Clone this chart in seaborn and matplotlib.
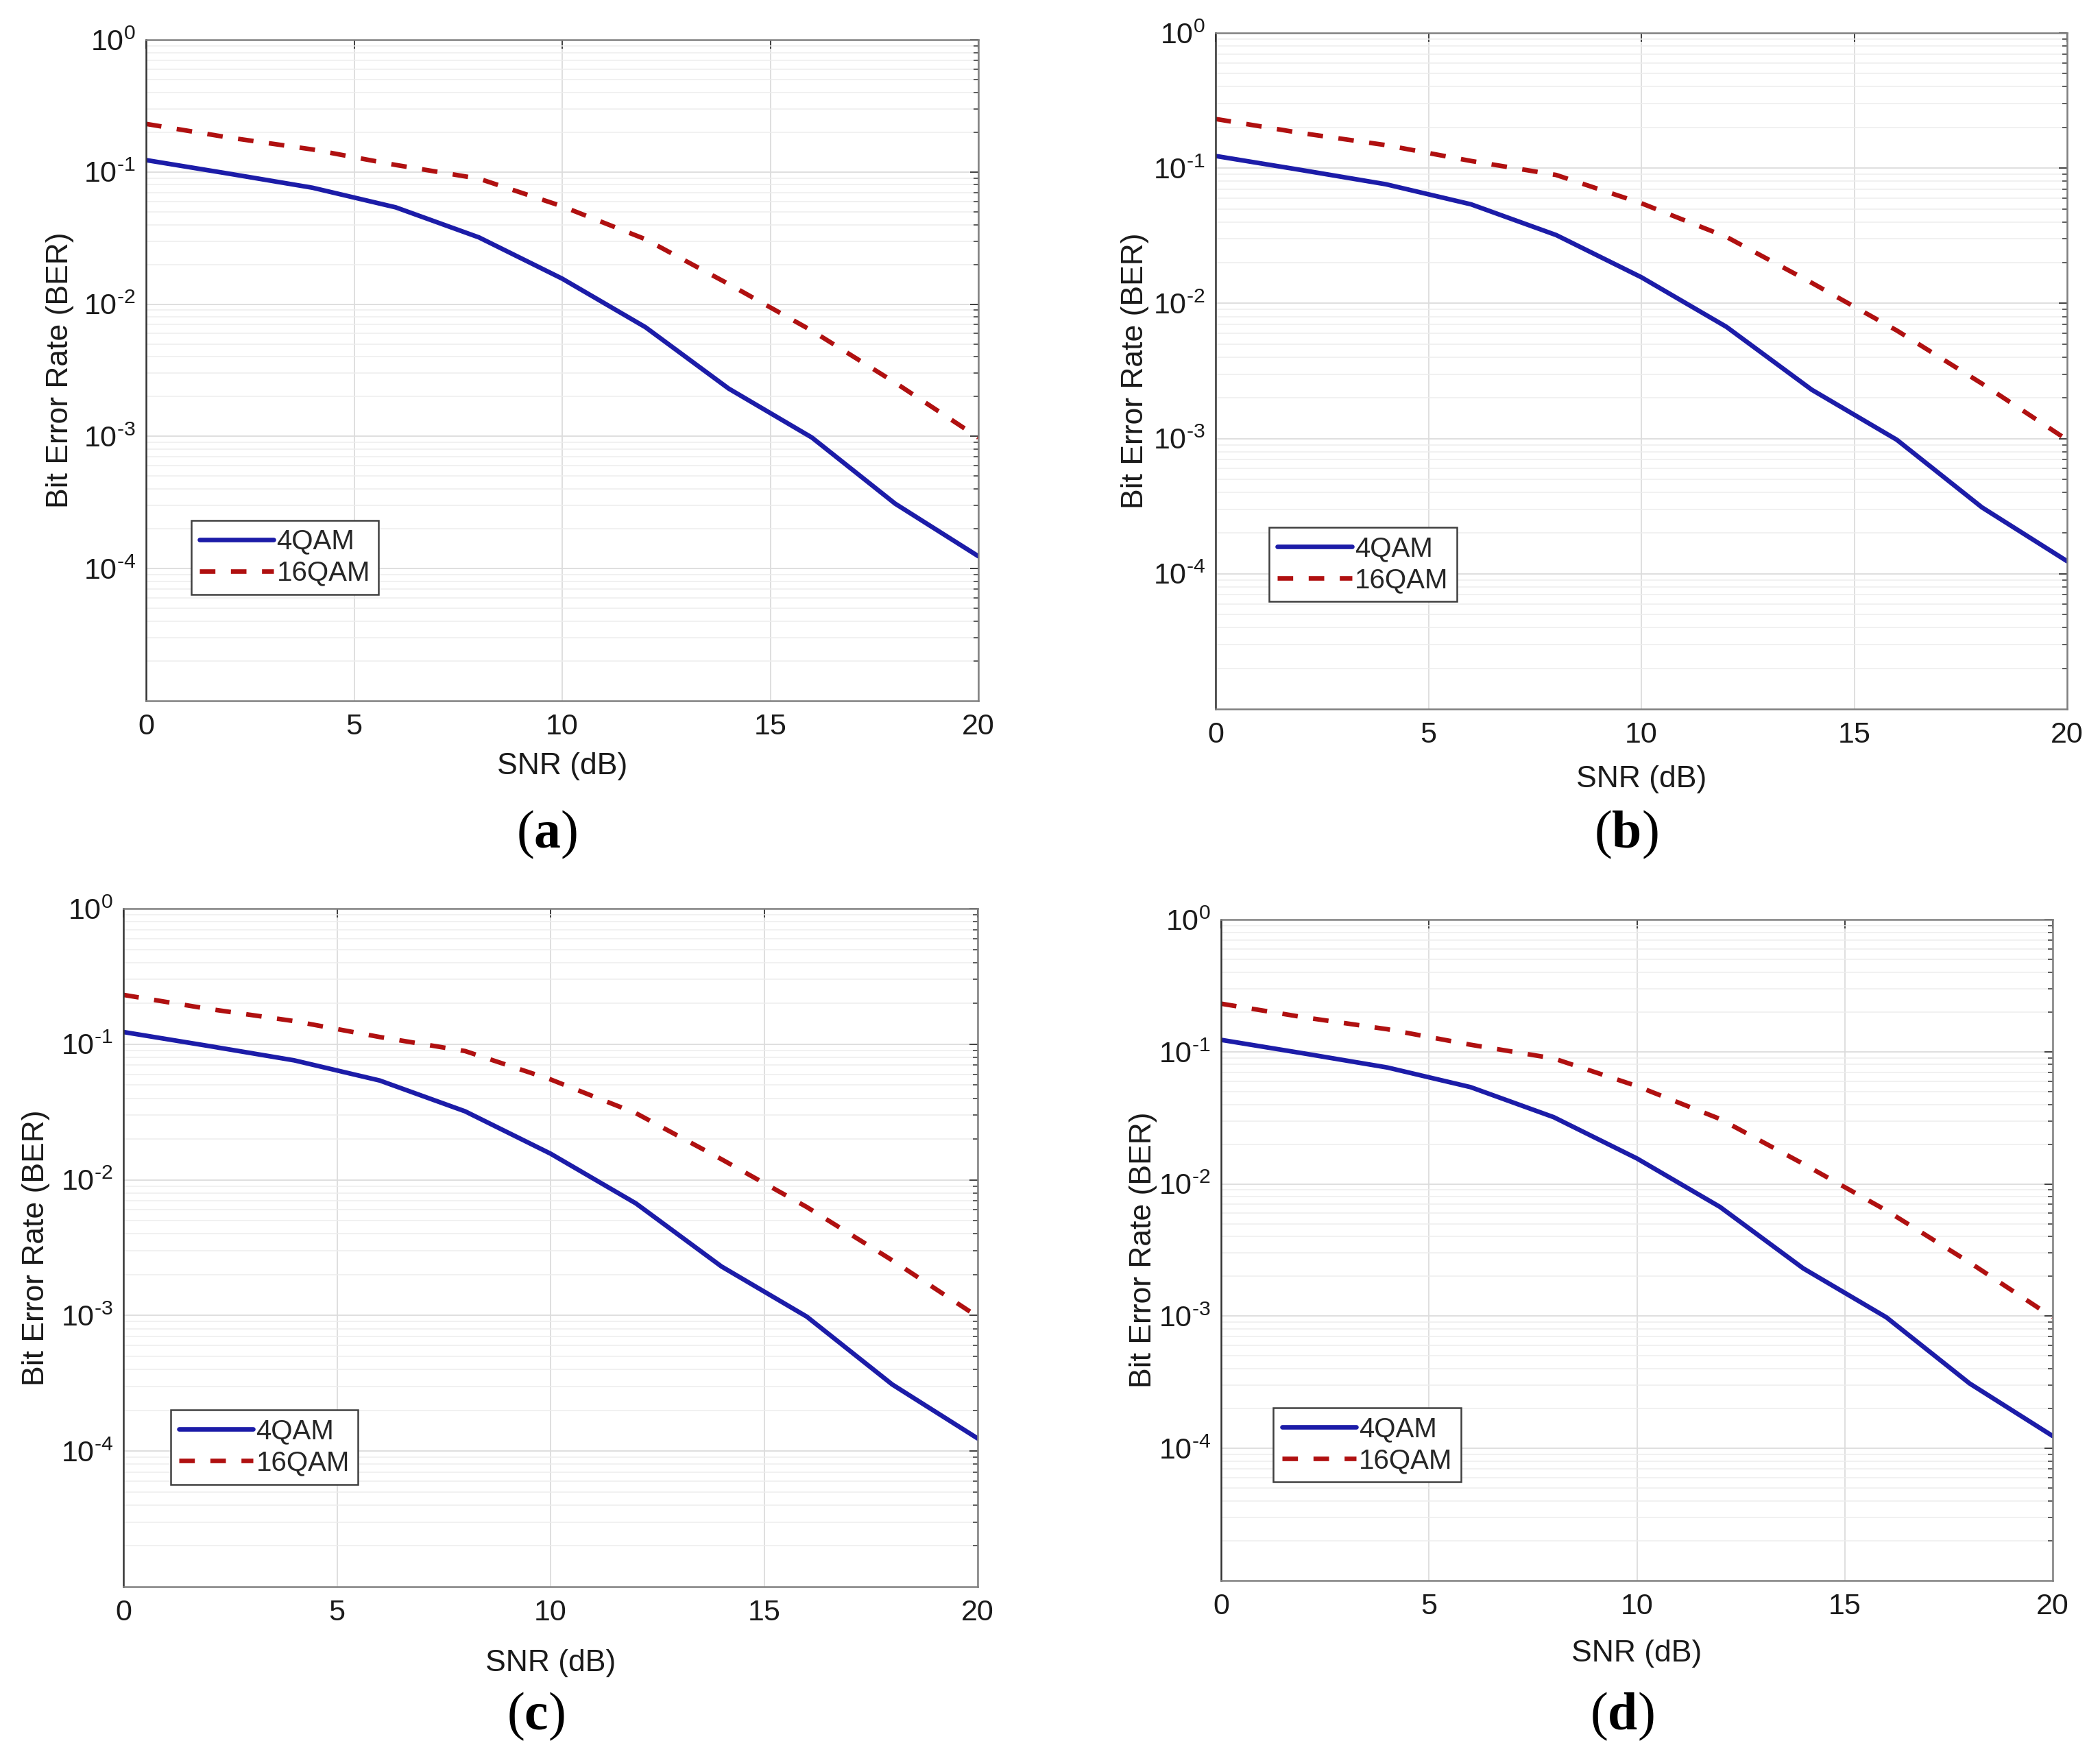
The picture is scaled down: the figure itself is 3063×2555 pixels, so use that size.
import numpy as np
import pandas as pd
import matplotlib
matplotlib.use("Agg")
import matplotlib.pyplot as plt
import matplotlib.ticker as mticker
import seaborn as sns


# =========================
# Data
# =========================

snr_db = [0, 2, 4, 6, 8, 10, 12, 14, 16, 18, 20]

ber_4qam = [0.123, 0.097, 0.076, 0.054, 0.032, 0.0156,
            0.0067, 0.0023, 0.00098, 0.00031, 0.000124]

ber_16qam = [0.231, 0.182, 0.148, 0.113, 0.089, 0.055,
             0.031, 0.0142, 0.0063, 0.00255, 0.00098]

panel_names = ["a", "b", "c", "d"]
series_names = ["4QAM", "16QAM"]

x_ticks = [0, 5, 10, 15, 20]
y_ticks = [1e-4, 1e-3, 1e-2, 1e-1, 1e0]
y_tick_labels = [r"$10^{\text{-}4}$", r"$10^{\text{-}3}$", r"$10^{\text{-}2}$",
                 r"$10^{\text{-}1}$", r"$10^{0}$"]


# =========================
# Style
# =========================

sns.set_style("white")
plt.rcParams["font.family"] = ["Liberation Sans", "DejaVu Sans"]
plt.rcParams["mathtext.fontset"] = "custom"
plt.rcParams["mathtext.rm"] = "Liberation Sans"
plt.rcParams["mathtext.it"] = "Liberation Sans:italic"
plt.rcParams["mathtext.bf"] = "Liberation Serif:bold"

W, H = 3063, 2555
fig = plt.figure(figsize=(W / 100, H / 100), dpi=100)

# axes boxes in pixels: left, top, right, bottom
boxes = [
    (213, 58, 1427, 1022),
    (1773, 48, 3015, 1034),
    (180, 1325, 1426, 2314),
    (1781, 1341, 2994, 2305),
]
legend_anchor = [(0.054, 0.161), (0.063, 0.159), (0.055, 0.151), (0.063, 0.149)]
xlabel_drop = [96, 103, 111, 106]
ylabel_x = [88, 1655, 53, 1667]
caption_y = [1217, 1217, 2503, 2503]

data = pd.DataFrame({
    "snr": snr_db * 2,
    "ber": ber_4qam + ber_16qam,
    "mod": [series_names[0]] * len(snr_db) + [series_names[1]] * len(snr_db),
})

palette = {"4QAM": "#1c1ca8", "16QAM": "#b01010"}

for i, name in enumerate(panel_names):
    l, t, r, b = boxes[i]
    ax = fig.add_axes([l / W, 1 - b / H, (r - l) / W, (b - t) / H])

    sns.lineplot(data=data, x="snr", y="ber", hue="mod", style="mod",
                 palette=palette, dashes={"4QAM": "", "16QAM": (3.4, 3.4)},
                 linewidth=4.8, ax=ax, legend=True)

    ax.set_yscale("log")
    ax.set_xlim(0, 20)
    ax.set_ylim(1e-5, 1e0)
    ax.set_xticks(x_ticks)
    ax.set_yticks(y_ticks)
    ax.yaxis.set_major_formatter(mticker.FixedFormatter(y_tick_labels))
    ax.yaxis.set_minor_locator(mticker.LogLocator(base=10, subs=np.arange(2, 10), numticks=20))
    ax.yaxis.set_minor_formatter(mticker.NullFormatter())

    ax.grid(True, which="major", color="#dcdcdc", linewidth=1.3)
    ax.grid(True, which="minor", axis="y", color="#ededed", linewidth=1.1)
    ax.set_axisbelow(True)

    ax.tick_params(axis="both", which="both", direction="in",
                   top=True, right=True, labelsize=31, colors="#333333")
    ax.tick_params(axis="both", which="major", length=9, width=1.3)
    ax.tick_params(axis="y", which="minor", length=5, width=1.1)
    ax.tick_params(axis="x", which="major", pad=13)
    ax.tick_params(axis="y", which="major", pad=11)
    for lab in ax.get_xticklabels() + ax.get_yticklabels():
        lab.set_color("#1a1a1a")

    ax.spines["left"].set_color("#333333")
    for s in ["top", "right", "bottom"]:
        ax.spines[s].set_color("#808080")
    for s in ax.spines.values():
        s.set_linewidth(1.8)

    ax.set_xlabel("SNR (dB)", fontsize=32, color="#1a1a1a", va="center")
    ax.set_ylabel("Bit Error Rate (BER)", fontsize=32, color="#1a1a1a", va="center")
    ax.xaxis.set_label_coords(0.5, -xlabel_drop[i] / (b - t))
    ax.yaxis.set_label_coords((ylabel_x[i] - l) / (r - l), 0.5)

    handles, labels = ax.get_legend_handles_labels()
    leg = ax.legend(handles, labels, loc="lower left",
                    bbox_to_anchor=legend_anchor[i], borderaxespad=0,
                    fontsize=29, handlelength=2.7, handletextpad=0.1,
                    borderpad=0.3, labelspacing=0.2, fancybox=False,
                    framealpha=1, edgecolor="#404040")
    leg.get_frame().set_linewidth(1.8)
    for ln in leg.get_lines():
        ln.set_linewidth(4.8)

    cx = (l + r) / 2 - 22
    fig.text(cx / W, 1 - caption_y[i] / H, r"($\mathbf{" + name + "}$)",
             family="Liberation Serif", fontsize=56, ha="center", va="center",
             color="black")

fig.savefig("out.png", dpi=100, facecolor="white")
plt.close(fig)
